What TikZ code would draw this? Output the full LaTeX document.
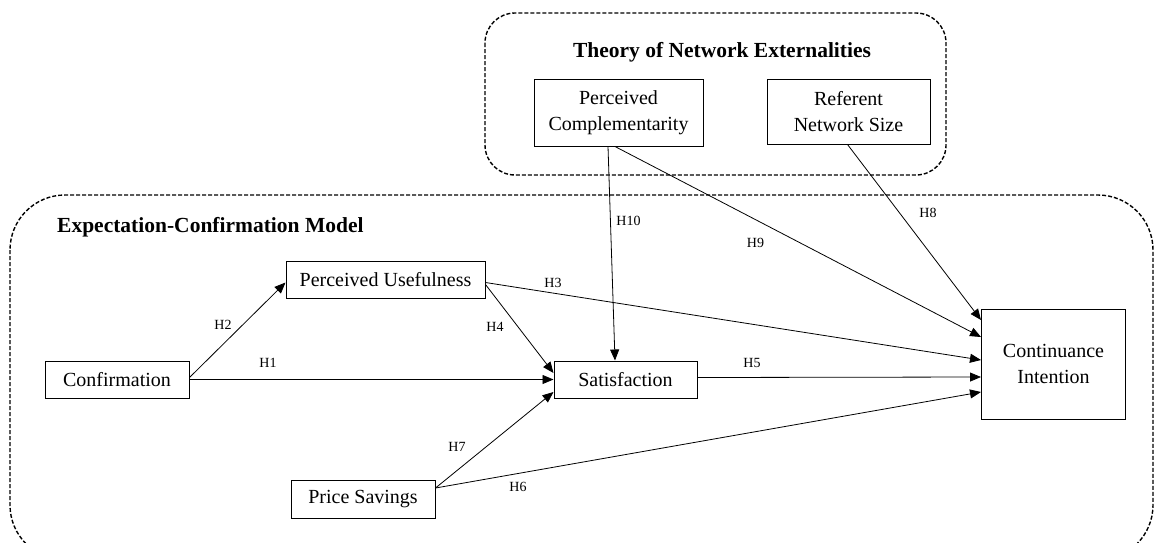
\documentclass[tikz,border=0pt]{standalone}
\usepackage{fontspec}
\setmainfont{Liberation Serif}
\usetikzlibrary{arrows.meta}
\tikzset{
  construct/.style={draw, line width=1pt, inner sep=0pt, align=center, font=\fontsize{20}{26}\selectfont},
  grouptitle/.style={inner sep=0pt, font=\fontsize{21.5}{26}\selectfont\bfseries},
  groupbox/.style={draw, line width=1.4pt, dash pattern=on 4pt off 2pt},
  hyp/.style={line width=0.8pt, -{Triangle[length=11pt,width=9pt]}},
  hlabel/.style={inner sep=0pt, font=\fontsize{14}{16}\selectfont}
}
\begin{document}
\begin{tikzpicture}[x=1pt,y=-1pt]
\useasboundingbox (0,0) rectangle (1155,542);
\clip (0,0) rectangle (1155,542);
% group boxes
\draw[groupbox, rounded corners=30pt] (485,13) rectangle (946,175);
\draw[groupbox, rounded corners=55pt] (10,195) rectangle (1153,560);
\node[grouptitle] (tne) at (722,52) {Theory of Network Externalities};
\node[grouptitle, anchor=west] (ecm) at (57,227) {Expectation-Confirmation Model};
% constructs
\node[construct, minimum width=169pt, minimum height=67pt] (pc) at (618.5,112.5) {Perceived\\Complementarity};
\node[construct, minimum width=163pt, minimum height=65pt] (rns) at (848.5,111.5) {Referent\\Network Size};
\node[construct, minimum width=144pt, minimum height=37pt] (conf) at (117,379.5) {Confirmation};
\node[construct, minimum width=199pt, minimum height=37pt] (pu) at (385.5,279.5) {Perceived Usefulness};
\node[construct, minimum width=144pt, minimum height=38pt] (ps) at (363,499) {Price Savings};
\node[construct, minimum width=143pt, minimum height=37pt] (sat) at (625.5,379.5) {Satisfaction};
\node[construct, minimum width=144pt, minimum height=110pt] (ci) at (1053.5,364) {Continuance\\Intention};
% hypotheses
\draw[hyp] (conf.east) -- (sat.west);
\draw[hyp] ([yshift=2pt]conf.east) -- ([yshift=-3pt]pu.west);
\draw[hyp] ([yshift=-3pt]pu.east) -- ([yshift=4pt]ci.west);
\draw[hyp] ([yshift=-5pt]pu.east) -- ([yshift=6.5pt]sat.west);
\draw[hyp] ([yshift=2pt]sat.east) -- ([yshift=-13pt]ci.west);
\draw[hyp] ([yshift=11pt]ps.east) -- ([yshift=-28pt]ci.west);
\draw[hyp] ([yshift=11pt]ps.east) -- ([yshift=-12.5pt]sat.west);
\draw[hyp] ([xshift=-1pt]rns.south) -- ([yshift=44pt]ci.west);
\draw[hyp] ([xshift=-3.5pt]pc.south) -- ([yshift=27pt]ci.west);
\draw[hyp] ([xshift=-10.5pt]pc.south) -- ([xshift=-10.5pt]sat.north);
% labels
\node[hlabel] (h1) at (268,363) {H1};
\node[hlabel] (h2) at (223,325) {H2};
\node[hlabel] (h3) at (553,283) {H3};
\node[hlabel] (h4) at (495,327) {H4};
\node[hlabel] (h5) at (752,363) {H5};
\node[hlabel] (h6) at (518,487) {H6};
\node[hlabel] (h7) at (457,447) {H7};
\node[hlabel] (h8) at (928,213) {H8};
\node[hlabel] (h9) at (755.5,243) {H9};
\node[hlabel] (h10) at (628.5,221) {H10};
\end{tikzpicture}
\end{document}
